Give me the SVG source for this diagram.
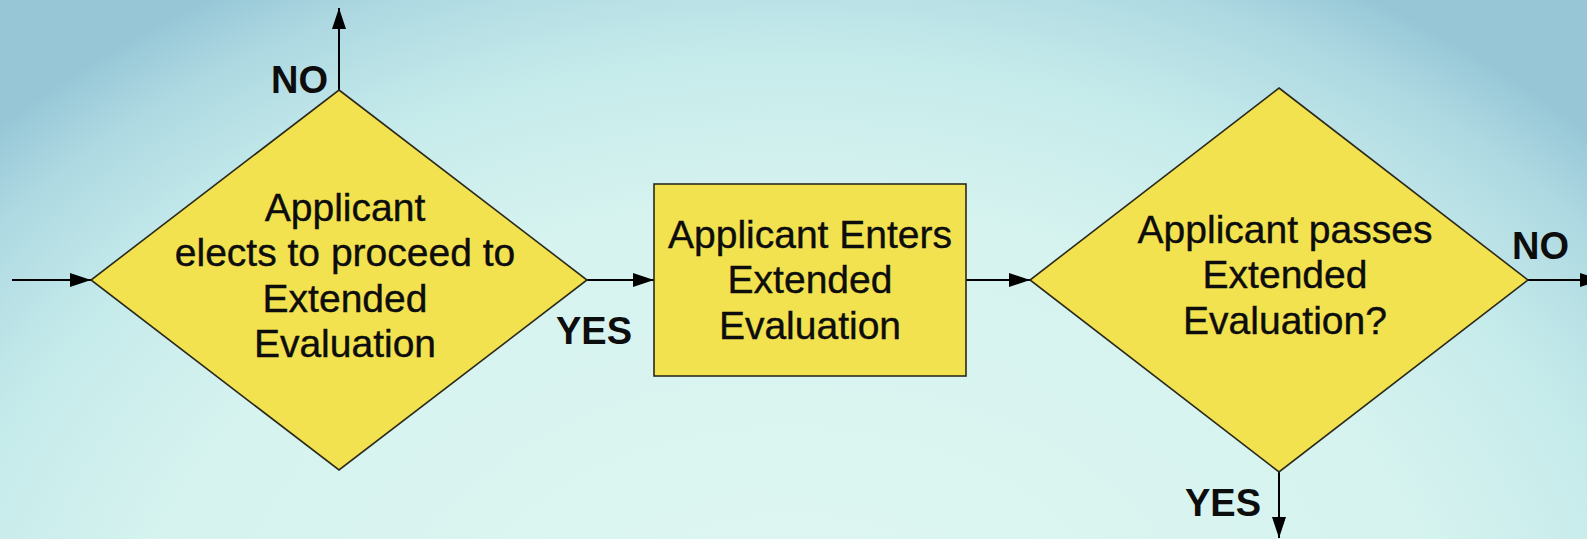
<svg xmlns="http://www.w3.org/2000/svg" width="1587" height="539" viewBox="0 0 1587 539">
<defs>
<radialGradient id="bg" gradientUnits="userSpaceOnUse" cx="790" cy="700" r="1100" gradientTransform="translate(790 700) scale(1 0.75) translate(-790 -700)">
<stop offset="0" stop-color="#e0f7f2"/>
<stop offset="0.6" stop-color="#d6f3ef"/>
<stop offset="0.78" stop-color="#c6ebeb"/>
<stop offset="0.92" stop-color="#aed9e2"/>
<stop offset="1" stop-color="#97c7d7"/>
</radialGradient>
<marker id="arr" markerUnits="userSpaceOnUse" markerWidth="21" markerHeight="14" refX="21" refY="7" orient="auto">
<path d="M0,0 L21,7 L0,14 z" fill="#000"/>
</marker>
<style>
.shape{fill:#f2e250;stroke:#2b2a1c;stroke-width:1.6}
.t{font-family:"Liberation Sans",Arial,sans-serif;font-size:39px;fill:#0d0d0d;stroke:#0d0d0d;stroke-width:0.4;text-anchor:middle}
.lbl{font-family:"Liberation Sans",Arial,sans-serif;font-size:38px;font-weight:bold;fill:#0d0d0d}
.c{stroke:#000;stroke-width:2;fill:none;marker-end:url(#arr)}
</style>
</defs>
<rect x="0" y="0" width="1587" height="539" fill="url(#bg)"/>
<g id="connectors">
<path class="c" d="M12,280 L91,280"/>
<path class="c" d="M339,90 L339,8"/>
<path class="c" d="M587,280 L654,280"/>
<path class="c" d="M966,280 L1030,280"/>
<path class="c" d="M1528,280 L1601,280"/>
<path class="c" d="M1279,472 L1279,538"/>
<text class="lbl" x="271" y="93">NO</text>
<text class="lbl" x="556" y="344">YES</text>
<text class="lbl" x="1512" y="259">NO</text>
<text class="lbl" x="1185" y="516">YES</text>
</g>
<g id="decision1">
<polygon class="shape" points="339,90 587,280 339,470 91,280"/>
<text class="t" x="345" y="221">Applicant</text>
<text class="t" x="345" y="266">elects to proceed to</text>
<text class="t" x="345" y="312">Extended</text>
<text class="t" x="345" y="357">Evaluation</text>
</g>
<g id="process">
<rect class="shape" x="654" y="184" width="312" height="192"/>
<text class="t" x="810" y="248">Applicant Enters</text>
<text class="t" x="810" y="293">Extended</text>
<text class="t" x="810" y="339">Evaluation</text>
</g>
<g id="decision2">
<polygon class="shape" points="1279,88 1528,280 1279,472 1030,280"/>
<text class="t" x="1285" y="243">Applicant passes</text>
<text class="t" x="1285" y="288">Extended</text>
<text class="t" x="1285" y="334">Evaluation?</text>
</g>
</svg>
